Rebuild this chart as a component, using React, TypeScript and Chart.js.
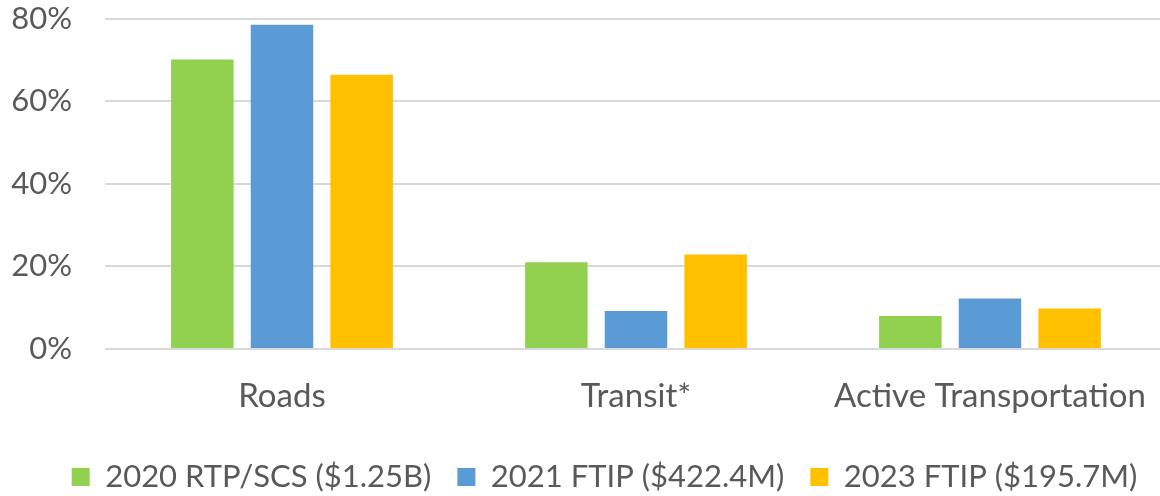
import React, { useEffect, useRef } from "react";
import { Chart, registerables } from "chart.js";

Chart.register(...registerables);

const categories = ["Roads", "Transit*", "Active Transportation"];
const seriesLabels = ["2020 RTP/SCS ($1.25B)", "2021 FTIP ($422.4M)", "2023 FTIP ($195.7M)"];
const rtp2020 = [70.1, 21.0, 8.0];
const ftip2021 = [78.5, 9.2, 12.2];
const ftip2023 = [66.4, 22.9, 9.8];
const yTickValues = [0, 20, 40, 60, 80];
const seriesColors = ["#92D050", "#5B9BD5", "#FFC000"];

const FONT = "Lato";
const TEXT = "#595959";
const LEGEND_FONT = 31;
const LEGEND_PAD = 26;

const legendPlacer = {
  id: "legendPlacer",
  afterLayout(chart: any) {
    const l = chart.legend;
    if (!l) return;
    const dx = 604.5 - (l.left + l.right) / 2;
    l.left += dx;
    l.right += dx;
    const cy = l.top + LEGEND_PAD + LEGEND_FONT / 2;
    const dy = 477 - cy;
    l.top += dy;
    l.bottom += dy;
  },
};

export default function App() {
  const ref = useRef<HTMLCanvasElement | null>(null);

  useEffect(() => {
    if (!ref.current) return;
    const series = [rtp2020, ftip2021, ftip2023];
    const chart = new Chart(ref.current, {
      type: "bar",
      data: {
        labels: categories,
        datasets: series.map((d, i) => ({
          label: seriesLabels[i],
          data: d,
          backgroundColor: seriesColors[i],
          borderWidth: 0,
          categoryPercentage: 0.675,
          barPercentage: 0.785,
        })),
      },
      plugins: [legendPlacer],
      options: {
        responsive: false,
        animation: false,
        devicePixelRatio: 1,
        layout: { padding: { left: 0, right: 1, top: 0, bottom: 0 } },
        plugins: {
          tooltip: { enabled: false },
          legend: {
            position: "bottom",
            labels: {
              boxWidth: 18,
              boxHeight: 18,
              padding: LEGEND_PAD,
              color: TEXT,
              font: { family: FONT, size: LEGEND_FONT },
            },
          },
        },
        scales: {
          x: {
            afterFit: (s: any) => {
              s.height = 80;
              s.paddingLeft = 0;
              s.paddingRight = 0;
            },
            grid: { display: false, drawTicks: false },
            border: { display: false },
            ticks: {
              color: TEXT,
              font: { family: FONT, size: 33 },
              padding: 28,
              maxRotation: 0,
            },
          },
          y: {
            min: 0,
            max: 80,
            afterFit: (s: any) => {
              s.width = 105;
              s.paddingTop = 18.5;
              s.paddingBottom = 0;
            },
            afterBuildTicks: (s: any) => {
              s.ticks = yTickValues.map((v) => ({ value: v }));
            },
            grid: { color: "#d9d9d9", lineWidth: 2, drawTicks: false },
            border: { display: false },
            ticks: {
              color: TEXT,
              font: { family: FONT, size: 31 },
              padding: 33,
              callback: (v: any) => v + "%",
            },
          },
        },
      },
    });
    return () => chart.destroy();
  }, []);

  return (
    <div
      style={{
        position: "absolute",
        left: 0,
        top: 0,
        width: 1160,
        height: 496,
        overflow: "hidden",
        background: "#fff",
      }}
    >
      <div style={{ width: 1168, height: 496 }}>
        <canvas ref={ref} width={1168} height={496} style={{ display: "block" }} />
      </div>
    </div>
  );
}
